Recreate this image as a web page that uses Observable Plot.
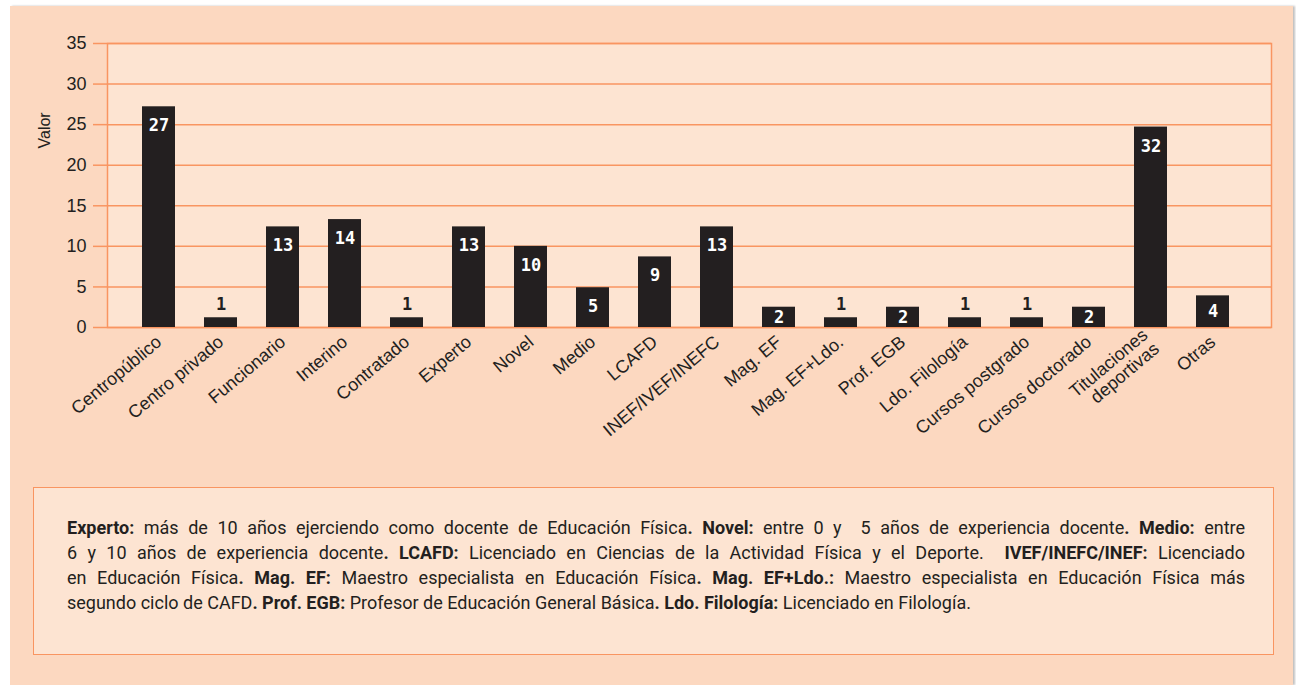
<!DOCTYPE html>
<html>
<head>
<meta charset="utf-8">
<script src="https://cdn.jsdelivr.net/npm/d3@7"></script>
<script src="https://cdn.jsdelivr.net/npm/@observablehq/plot@0.6"></script>
<style>
  html, body { margin: 0; padding: 0; background: #ffffff; }
  body { width: 1296px; height: 685px; position: relative; overflow: hidden; }
  #panel { position: absolute; left: 10px; top: 6px; width: 1283px; height: 679px; background: #fcd8c0; box-shadow: 2px 0 2px rgba(0,0,0,0.25); }
  #chart { position: absolute; left: 0; top: 0; }
  #caption { position: absolute; left: 33px; top: 487px; width: 1241px; height: 168px; background: #fde4d2; border: 1.5px solid #f99561; box-sizing: border-box; }
  #caption .txt { position: absolute; left: 33px; top: 27px; width: 1178px; font-family: Roboto, sans-serif; font-size: 18px; letter-spacing: 0px; line-height: 25px; color: #231f20; }
  #caption .l { text-align: justify; text-align-last: justify; }
  #caption .last { text-align: left; }
</style>
</head>
<body>
<div id="panel"></div>
<div id="chart"></div>
<div id="caption"><div class="txt">
  <div class="l"><b>Experto:</b> más de 10 años ejerciendo como docente de Educación Física<b>. Novel:</b> entre 0 y&nbsp; 5 años de experiencia docente<b>. Medio:</b> entre</div>
  <div class="l">6 y 10 años de experiencia docente<b>. LCAFD:</b> Licenciado en Ciencias de la Actividad Física y el Deporte.&nbsp; <b>IVEF/INEFC/INEF:</b> Licenciado</div>
  <div class="l">en Educación Física<b>. Mag. EF:</b> Maestro especialista en Educación Física<b>. Mag. EF+Ldo.:</b> Maestro especialista en Educación Física más</div>
  <div class="last">segundo ciclo de CAFD<b>. Prof. EGB:</b> Profesor de Educación General Básica<b>. Ldo. Filología:</b> Licenciado en Filología.</div>
</div></div>
<script>
const categories = ["Centropúblico", "Centro privado", "Funcionario", "Interino", "Contratado", "Experto", "Novel", "Medio", "LCAFD", "INEF/IVEF/INEFC", "Mag. EF", "Mag. EF+Ldo.", "Prof. EGB", "Ldo. Filología", "Cursos postgrado", "Cursos doctorado", "Titulaciones\ndeportivas", "Otras"];
const values = [27.2, 1.2, 12.4, 13.3, 1.2, 12.4, 10, 4.9, 8.7, 12.4, 2.5, 1.2, 2.5, 1.2, 1.2, 2.5, 24.7, 3.9];
const labels = [27, 1, 13, 14, 1, 13, 10, 5, 9, 13, 2, 1, 2, 1, 1, 2, 32, 4];
const yTicks = [0, 5, 10, 15, 20, 25, 30, 35];

const data = categories.map((c, i) => ({cat: c, value: values[i], label: labels[i]}));

const orange = "#f99561";
const dark = "#231f20";
const plotBg = "#fde4d2";
const labelFont = {fontFamily: "DejaVu Sans Mono", fontWeight: "bold", fontSize: 17};

const chart = Plot.plot({
  width: 1296,
  height: 470,
  marginTop: 43,
  marginBottom: 143,
  marginLeft: 107,
  marginRight: 25,
  style: {background: "transparent", fontFamily: "Liberation Sans, Arial, sans-serif", fontSize: "18px", color: dark},
  x: {type: "band", domain: categories, paddingInner: 0.47, paddingOuter: 0, insetLeft: 34, insetRight: 41},
  y: {domain: [0, 35]},
  marks: [
    Plot.frame({fill: plotBg, stroke: null}),
    Plot.gridY(yTicks, {stroke: orange, strokeOpacity: 1, strokeWidth: 1.5}),
    Plot.frame({stroke: orange, strokeWidth: 1.5}),
    Plot.axisY(yTicks, {tickSize: 14, tickPadding: 7, stroke: orange, strokeWidth: 1.5, fill: dark, fontSize: 18, label: null}),
    Plot.barY(data, {x: "cat", y: "value", fill: dark}),
    Plot.axisX({tickSize: 0, tickPadding: 12, tickRotate: -40, fontSize: 18, fill: dark, label: null, lineHeight: 1.0}),
    Plot.text(data.filter(d => d.value >= 4.5), {x: "cat", y: "value", text: "label", dy: 19, fill: "white", ...labelFont}),
    Plot.text(data.filter(d => d.value >= 2 && d.value < 4.5), {x: "cat", y: d => d.value / 2, text: "label", fill: "white", ...labelFont}),
    Plot.text(data.filter(d => d.value < 2), {x: "cat", y: "value", text: "label", dy: -13, fill: dark, ...labelFont}),
    Plot.text(["Valor"], {frameAnchor: "left", dx: -63, dy: -37, rotate: -90, fontSize: 16, fill: dark})
  ]
});
document.getElementById("chart").appendChild(chart);
</script>
</body>
</html>
